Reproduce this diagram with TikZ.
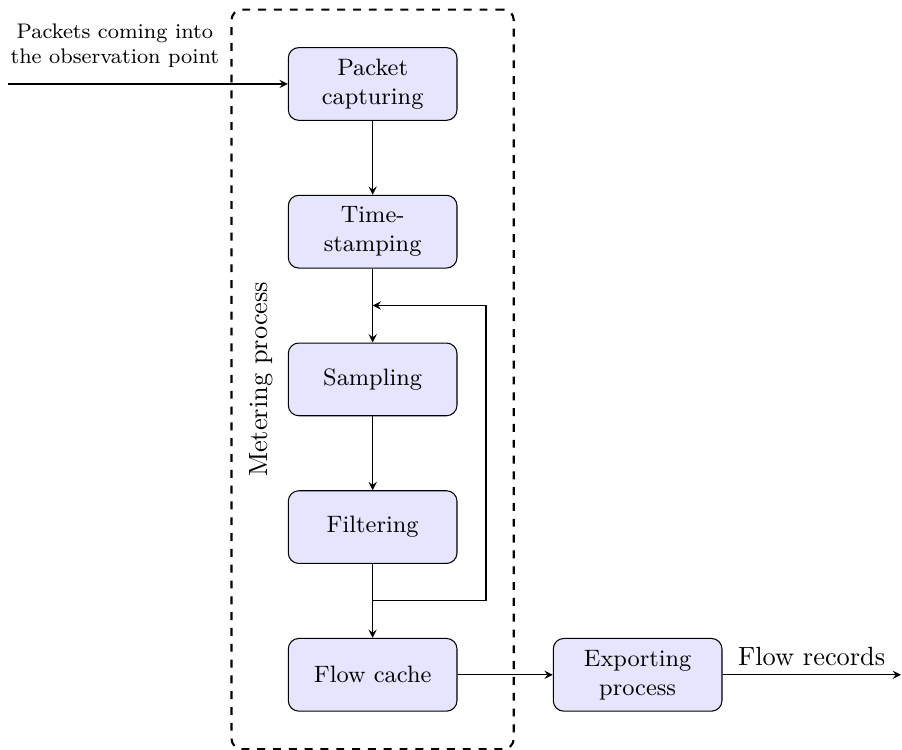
\documentclass[tikz,border=0pt]{standalone}
\usepackage{tikz}
\usetikzlibrary{positioning, arrows, fit}
\tikzset{
	->, % every connector is directed
	>=stealth, % sharp arrow heads
	node distance=1.97cm, % centre to centre distance between two stages
	stage/.style={draw, rounded corners, fill=blue!10, minimum width=2.25cm, minimum height=0.97cm, align=center, font=\small}, % the boxes of the process
	process/.style={draw, thick, dashed, rounded corners, inner xsep=0.75cm, inner ysep=0.5cm}, % the dashed frame round the metering stages
}

\begin{document}
\begin{tikzpicture}
	\useasboundingbox (0,0) rectangle (12.03,-9.99);
			\node[stage] (cap) at (4.97,-1.12) {Packet\\capturing};
			\node[stage, below of=cap] (stamp) {Time-\\stamping};
			\node[stage, below of=stamp] (samp) {Sampling};
			\node[stage, below of=samp] (filt) {Filtering};
			\node[stage, below of=filt] (cache) {Flow cache};
			\node[stage, right=1.27cm of cache] (exp) {Exporting\\process};
			\node[process, fit=(cap)(cache)] (meter) {};
			\node[rotate=90, anchor=north, inner sep=7pt] (meterlbl) at (meter.west) {Metering process};
			\coordinate (in) at (0.107,-1.12);
			\node[above right=0.1cm and -0.09cm of in, align=center, font=\footnotesize] (inlbl) {Packets coming into\\the observation point};
			\coordinate[right=2.38cm of exp.east] (out);
			\coordinate[right=0.38cm of filt.east] (loopr);
	\draw	(in) -- (cap);
	\draw	(cap) edge (stamp)
			(stamp) edge coordinate (j2) (samp)
			(samp) edge (filt)
			(filt) edge coordinate (j1) (cache)
			(cache) edge (exp);
	\draw	(j1) -| (loopr) |- (j2);
	\draw	(exp) -- node[above] (outlbl) {Flow records} (out);
\end{tikzpicture}
\end{document}
